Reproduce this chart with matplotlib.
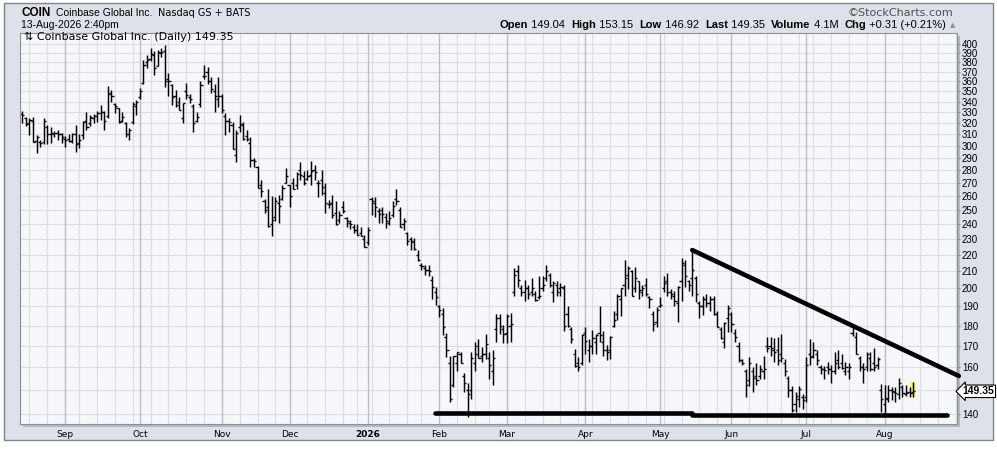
import numpy as np
import pandas as pd
import matplotlib
matplotlib.use("Agg")
import matplotlib.pyplot as plt
from matplotlib.patches import Rectangle
from matplotlib.ticker import FixedLocator, NullLocator

# ---- data (daily OHLC for COIN) ----
holidays = ["2025-09-01", "2025-11-27", "2025-12-25", "2026-01-01", "2026-01-19",
            "2026-02-16", "2026-04-03", "2026-05-25", "2026-06-19", "2026-07-03"]
first_day = "2025-08-14"
last_day = "2026-08-13"
axis_end_day = "2026-08-31"

opens = [328, 324, 320, 322, 304, 303, 303, 316, 310, 310,
         311, 310, 306, 306, 304, 310, 302, 309, 322, 320,
         324, 326, 329, 330, 326, 348, 338, 334, 322, 320,
         310, 321, 336, 344, 358, 380, 384, 388, 376, 390,
         392, 362, 356, 345, 340, 324, 350, 344, 336, 322,
         338, 366, 370, 360, 350, 342, 345, 326, 322, 318,
         292, 316, 318, 308, 302, 288, 282, 268, 256, 252,
         240, 245, 255, 258, 270, 268, 270, 268, 280, 275,
         273, 276, 280, 270, 272, 262, 254, 255, 248, 243,
         252, 244, 241, 238, 236, 234, 230, 228, 258, 255,
         249, 250, 245, 241, 246, 258, 250, 240, 234, 230,
         228, 220, 214, 212, 211, 205, 198, 190, 186, 174,
         162, 152, 162, 166, 156, 150, 150, 162, 170, 165,
         166, 164, 158, 178, 184, 178, 176, 180, 198, 210,
         200, 198, 200, 198, 197, 195, 200, 206, 208, 198,
         202, 200, 200, 186, 178, 166, 162, 162, 176, 168,
         170, 172, 176, 172, 168, 168, 180, 186, 194, 202,
         208, 210, 200, 204, 198, 202, 195, 186, 182, 190,
         200, 204, 198, 196, 192, 204, 214, 204, 206, 206,
         192, 190, 194, 192, 194, 186, 178, 172, 184, 186,
         176, 170, 163, 158, 154, 158, 156, 156, 158, 170,
         170, 168, 168, 166, 162, 155, 150, 144, 146, 147,
         147, 166, 165, 166, 160, 159, 160, 159, 158, 163,
         162, 158, 158, 176, 174, 164, 160, 160, 164, 162,
         161, 150, 144, 146, 150, 149, 148, 151, 148, 149, 149.04]
highs = [331, 325, 324, 325, 309.5, 305, 324, 318, 316, 313,
         314, 311, 308, 310, 311, 318, 310, 322, 330, 327,
         328, 331, 337, 331, 355, 351, 339, 334, 330, 321,
         315, 340, 341, 353, 383, 388, 396, 392, 394, 396,
         399.5, 369, 357, 351.5, 344, 339, 358, 347, 338, 330,
         360, 377.5, 375, 364, 357, 365, 347, 329, 324, 321,
         314, 327, 321, 314, 307, 290, 283, 272, 258, 265,
         260, 259, 261, 268, 281.5, 268, 273.5, 278, 286, 279,
         280, 287, 284, 272, 280, 270, 257, 261, 256, 249,
         256, 245, 243, 240, 240, 238, 233, 238, 259.5, 259.5,
         251, 252, 248, 249, 256, 265, 252, 244.5, 235, 231.5,
         231, 223, 215, 214, 214, 207, 201, 191, 189, 176,
         165, 165, 167, 167, 157.5, 153, 167, 172, 173, 169.5,
         175.5, 167, 168, 186, 186, 180.5, 186, 186.5, 212, 214,
         202, 205, 202, 206, 198.5, 207, 207, 214, 209, 204,
         204, 203, 202, 190.5, 179.5, 168.5, 164.5, 175.5, 179, 173,
         177.5, 175.5, 190, 177, 170.5, 174.5, 187.5, 197, 200.5, 216.5,
         213, 211, 212.5, 204, 202, 206, 195.5, 187.5, 189.5, 195,
         207, 209, 199.5, 198.5, 201.5, 218, 217, 205, 223, 207,
         193, 195.5, 197, 195.5, 195.5, 187.5, 179.5, 182, 191, 187,
         178, 172, 163.5, 159, 164.5, 160, 162, 161, 165, 174,
         174, 173.5, 174, 175.5, 163.5, 156, 151.5, 149, 151.5, 148,
         164.5, 173, 172, 168, 161, 160.5, 162.5, 161, 167, 168,
         166, 162.5, 162, 180.5, 176.5, 165, 162, 167, 167, 169,
         164.5, 152.5, 152, 152, 151, 151, 155, 152, 152, 151, 153.15]
lows = [320, 317, 309.5, 303, 294, 299, 301, 301, 302, 307,
        305, 302, 299, 303.5, 302, 295, 298, 306, 314, 317,
        320, 321, 323, 314, 324, 340, 329, 320, 321, 307,
        305, 319, 327.5, 342, 357, 374, 381, 367, 376, 386,
        354, 345, 337, 335, 332, 320, 342, 339, 312, 321,
        335, 362, 357, 348, 330, 335, 329, 309.5, 312, 297,
        286, 312, 305, 304, 282, 282, 266, 259.5, 248, 238,
        232, 242, 241, 257, 270, 252, 265, 265, 272, 268.5,
        272, 268.5, 272, 259.5, 261, 248, 251, 244, 239.5, 241,
        248, 238, 237, 234, 233, 232, 225, 226.5, 246.5, 245,
        241, 241, 237.5, 239.5, 245, 253.5, 238, 236, 226.5, 223,
        223, 216, 211, 208, 207, 194, 191, 184.5, 175, 164.5,
        145, 151, 158, 162, 149, 139, 146, 158, 164, 162.5,
        163.5, 154.6, 152, 172, 175.5, 171.5, 171.5, 172, 196, 201,
        195.5, 193, 194, 196, 193, 194, 198.5, 204, 201, 192.5,
        195.5, 196, 177, 179.5, 171.5, 160, 158, 161, 166, 162.5,
        166, 166, 172, 165, 163, 163.5, 179.5, 183, 185, 196,
        199.5, 195.5, 198, 194, 195.5, 195.5, 189, 177, 179.5, 189.5,
        198, 195.5, 194, 190.5, 182, 193, 201, 198.5, 195.5, 192.5,
        184, 185.5, 189.5, 187.5, 185.5, 179.5, 173, 169, 176.5, 176.5,
        172, 162.5, 161, 147, 151.5, 149, 152, 154.5, 154.5, 167,
        165, 162.5, 161, 162.5, 156, 147, 141, 141, 143, 142,
        145, 161, 164, 161, 157, 154.6, 157, 153, 157, 159,
        159, 156.5, 154.6, 174.5, 166, 158, 153, 158, 158, 158,
        159, 141, 140, 145, 145.5, 145, 146, 147, 147.5, 147, 146.92]
closes = [327, 319, 323, 303, 307, 302, 322, 310, 311, 311,
          310, 307, 305, 304, 310, 301.5, 305, 321, 316, 325,
          326, 329, 330, 322, 347, 345, 336, 321, 325, 310,
          314, 338, 340, 350, 377, 383, 389, 374, 391, 391,
          360, 360, 344, 337, 332, 339, 346, 342, 320, 325,
          356, 366, 360, 352, 345, 345, 332, 322, 321, 297,
          311, 319, 306, 306, 288, 287, 266, 264, 250, 239,
          243, 256, 253, 266, 275, 260, 265, 277, 276, 270,
          275, 279, 278, 270, 267, 255, 254, 246, 240, 246,
          249, 242, 240, 236, 233, 232, 225, 236, 256, 252,
          247, 247, 242, 244, 253, 256, 238, 242, 229, 229,
          223.5, 217, 213, 211, 210, 201, 195, 188, 179, 168,
          146, 165, 167, 162, 153, 148, 164, 166, 164, 166,
          171, 161, 164, 184, 180, 175.5, 185, 181, 208, 205,
          198, 200, 197, 200, 193.5, 196, 202, 210, 202, 203,
          198, 201, 180, 180, 173, 160.5, 160, 175, 172.5, 170,
          173.5, 175, 175, 168, 167, 174, 183, 195.5, 200, 206,
          212, 196, 206, 199, 200, 197, 194, 181, 188, 191,
          203, 198, 197, 193, 201, 215, 207, 202, 211, 197,
          190, 194, 192, 194, 186, 179.5, 173.5, 181.5, 189, 181,
          174, 163, 162, 152, 162, 155, 154, 159, 159, 169,
          169, 167, 163, 164, 158, 150, 141.5, 147.5, 150.5, 145.5,
          161, 164.5, 168, 163, 159, 158.5, 159, 158, 162, 160,
          159.5, 160, 160, 178.5, 166, 160, 159, 166, 159, 160,
          163.5, 146, 146.5, 150, 149.5, 148.5, 153, 148.5, 148.5, 148.5, 149.35]

price_ticks = list(range(140, 410, 10))
month_labels = ["Sep", "Oct", "Nov", "Dec", "2026", "Feb", "Mar", "Apr", "May", "Jun", "Jul", "Aug"]

# hand-drawn trend lines: (bar index, price)
support_left = [(115.8, 140.35), (188.0, 140.35)]
support_right = [(188.0, 139.65), (259.5, 139.65)]
resistance = [(188.0, 223.0), (262.8, 156.0)]

header_left = ("COIN", "Coinbase Global Inc.", "Nasdaq GS + BATS", "13-Aug-2026 2:40pm")
header_right = [("Open", True), (" 149.04  ", False), ("High", True), (" 153.15  ", False),
                ("Low", True), (" 146.92  ", False), ("Last", True), (" 149.35  ", False),
                ("Volume", True), (" 4.1M  ", False), ("Chg", True), (" +0.31 (+0.21%)", False)]
legend_label = "\u21c5 Coinbase Global Inc. (Daily) 149.35"

# ---- calendar ----
all_days = pd.bdate_range(first_day, axis_end_day, freq="C", holidays=holidays)
n = len(closes)
x = np.arange(n)
month_idx = [i for i in range(1, len(all_days)) if all_days[i].month != all_days[i - 1].month][:len(month_labels)]
week_idx = [i for i in range(1, len(all_days)) if all_days[i].weekday() <= all_days[i - 1].weekday()]

# ---- figure ----
W, H = 997, 453
fig = plt.figure(figsize=(W / 100, H / 100), dpi=100)
fig.patch.set_facecolor("white")


def fx(px):
    return px / W


def fy(py):
    return 1 - py / H


fig.patches.append(Rectangle((fx(4), fy(440)), fx(993) - fx(4), fy(3) - fy(440),
                             transform=fig.transFigure, facecolor="#dde1e9",
                             edgecolor="#7f848c", lw=1.0, zorder=-3))
fig.patches.append(Rectangle((fx(23), fy(427)), fx(960) - fx(23), fy(36) - fy(427),
                             transform=fig.transFigure, facecolor="#b3b8c0",
                             edgecolor="none", zorder=-2))

ax = fig.add_axes([fx(20), fy(424), fx(957) - fx(20), fy(33) - fy(424)])
ax.set_facecolor("#f5f7fb")
ax.set_yscale("log")
ax.set_ylim(136.1, 413)
ax.set_xlim(-0.65, 262.3)

# grid
for p in price_ticks:
    ax.axhline(p, color="#d9dde4", lw=0.8, zorder=0.5)
for i in week_idx:
    ax.axvline(i, color="#d9dde4", lw=0.8, zorder=0.5)
for i in month_idx:
    ax.axvline(i, color="#b9bec7", lw=1.0, zorder=0.6)

# last bar highlight
ax.bar(x[-1], highs[-1] - lows[-1], bottom=lows[-1], width=1.8, color="#fff45c", zorder=1)

# OHLC bars
ax.vlines(x, lows, highs, color="black", lw=1.05, zorder=2)
ax.hlines(opens, x - 0.6, x, color="black", lw=1.0, zorder=2)
ax.hlines(closes, x, x + 0.6, color="black", lw=1.0, zorder=2)

# trend lines
for seg in (support_left, support_right, resistance):
    xs, ys = zip(*seg)
    ax.plot(xs, ys, color="black", lw=3.3, solid_capstyle="round", zorder=3, clip_on=False)

# axes styling
for s in ax.spines.values():
    s.set_color("#8a8f98")
    s.set_linewidth(0.8)
ax.yaxis.tick_right()
ax.yaxis.set_major_locator(FixedLocator(price_ticks))
ax.yaxis.set_minor_locator(NullLocator())
ax.set_yticklabels(["" if p == 150 else str(p) for p in price_ticks])
ax.tick_params(axis="y", length=2, pad=1.5, labelsize=7, color="#8a8f98")
ax.set_xticks(month_idx, month_labels)
ax.tick_params(axis="x", length=0, pad=4, labelsize=6.5)
for lab in ax.get_yticklabels():
    lab.set_family("Liberation Sans")
for lab in ax.get_xticklabels():
    lab.set_family("DejaVu Sans")
    if lab.get_text() == "2026":
        lab.set_fontweight("bold")

# last price tag
ax.annotate(f"{closes[-1]:.2f}", xy=(1, closes[-1]), xycoords=("axes fraction", "data"),
            xytext=(4, 0), textcoords="offset points", ha="left", va="center",
            fontsize=7.5, fontweight="bold", family="Liberation Sans", annotation_clip=False,
            bbox=dict(boxstyle="larrow,pad=0.12", fc="white", ec="black", lw=0.8), zorder=6)

# header
fig.text(fx(21), fy(16.5), header_left[0], fontsize=8.5, fontweight="bold",
         family="Liberation Sans", va="baseline")
fig.text(fx(56), fy(16.5), header_left[1], fontsize=7.5, family="Liberation Sans", va="baseline")
fig.text(fx(158), fy(16.5), header_left[2], fontsize=7, family="DejaVu Sans", va="baseline")
fig.text(fx(21), fy(27.5), header_left[3], fontsize=7.5, family="Liberation Sans", va="baseline")
fig.text(fx(953), fy(15.5), "\u00a9StockCharts.com", fontsize=8, family="DejaVu Sans",
         color="#505050", ha="right", va="baseline")
fig.text(fx(24), fy(40.5), legend_label, fontsize=8, family="DejaVu Sans", va="baseline", zorder=5)

renderer = fig.canvas.get_renderer()
pieces = []
for s, bold in header_right:
    t = fig.text(0, fy(28), s, fontsize=8, fontweight="bold" if bold else "normal",
                 family="Liberation Sans", va="baseline")
    pieces.append(t)
widths = [t.get_window_extent(renderer).width for t in pieces]
xpos = 946 - sum(widths)
for t, w in zip(pieces, widths):
    t.set_x(fx(xpos))
    xpos += w
fig.text(fx(950), fy(27.5), "\u25b2", fontsize=5, color="#8a8f99", family="DejaVu Sans", va="baseline")

fig.savefig("out.png", dpi=100)
